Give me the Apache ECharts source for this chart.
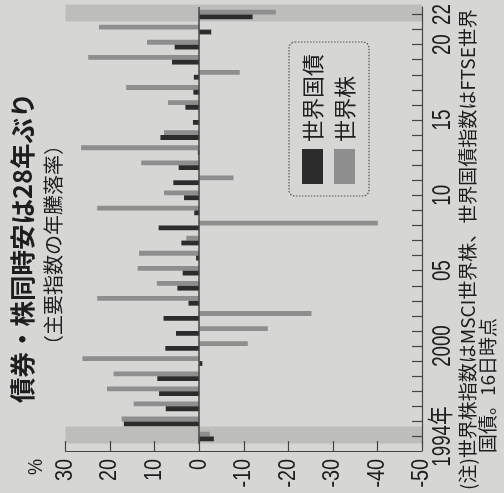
<!DOCTYPE html>
<html>
<head>
<meta charset="utf-8">
<script src="https://cdn.jsdelivr.net/npm/echarts@6/dist/echarts.min.js"></script>
<style>
  html, body { margin: 0; padding: 0; background: #d6d6d4; }
  #chart { width: 504px; height: 493px; }
</style>
</head>
<body>
<div id="chart"></div>
<script>
// Annual returns of the main bond and equity indices, 1994-2022 (%)
const years = ['1994', '1995', '1996', '1997', '1998', '1999', '2000', '2001', '2002', '2003',
  '2004', '2005', '2006', '2007', '2008', '2009', '2010', '2011', '2012', '2013',
  '2014', '2015', '2016', '2017', '2018', '2019', '2020', '2021', '2022'];
// 世界国債 (FTSE World Government Bond Index)
const bondReturns = [-3.3, 16.9, 7.5, 9.0, 9.4, -0.7, 7.6, 5.2, 8.0, 2.4,
  4.9, 3.7, 0.7, 4.0, 9.1, 1.1, 3.4, 5.8, 4.6, 0.3,
  8.7, 1.4, 3.1, 1.3, 1.2, 6.1, 5.5, -2.7, -12.0];
// 世界株 (MSCI World)
const stockReturns = [-2.4, 17.4, 14.7, 20.7, 19.2, 26.2, -10.9, -15.4, -25.2, 22.9,
  9.5, 13.8, 13.5, 2.9, -40.1, 22.9, 7.9, -7.7, 13.0, 26.5,
  7.9, 0.0, 7.0, 16.4, -9.1, 24.9, 11.7, 22.5, -17.2];
// years when both fell at once
const highlightYears = ['1994', '2022'];
// year axis labels
const labeledYears = ['1994', '2000', '2005', '2010', '2015', '2020', '2022'];
const yearLabelText = ['1994年', '2000', '05', '10', '15', '20', '22'];
// value axis (%)
const valueTickLabels = ['30', '20', '10', '0', '-10', '-20', '-30', '-40', '-50'];
const valueMin = -50;
const valueMax = 30;
const valueStep = 10;

const INK = '#1e1e1e';
const BOND_COLOR = '#2c2c2c';
const STOCK_COLOR = '#8e8e8e';
const BAND_COLOR = '#bdbdbb';
const AXIS_COLOR = '#444';
const JP = '"Noto Sans CJK JP", sans-serif';
const DIGITS = '"Liberation Sans", "Noto Sans CJK JP", sans-serif';
const UP = Math.PI / 2; // text reading bottom-to-top

const chart = echarts.init(document.getElementById('chart'), null, { renderer: 'canvas' });

function rotatedText(x, y, text, size, weight, align) {
  return {
    type: 'text', x: x, y: y, rotation: UP, silent: true,
    style: {
      text: text, fill: INK, font: (weight || 'normal') + ' ' + size + 'px ' + JP,
      textAlign: align || 'left', textVerticalAlign: 'middle'
    }
  };
}

const option = {
  backgroundColor: '#d6d6d4',
  animation: false,
  grid: { left: 65.5, right: 82, top: 7, bottom: 49, containLabel: false },
  xAxis: {
    type: 'value', inverse: true,
    min: valueMin, max: valueMax, interval: valueStep,
    offset: 7,
    axisLine: { show: true, lineStyle: { color: AXIS_COLOR, width: 1.2 } },
    axisTick: { show: true, inside: true, length: 10, lineStyle: { color: AXIS_COLOR, width: 1.2 } },
    splitLine: { show: false },
    axisLabel: { show: false }
  },
  yAxis: {
    type: 'category', data: years, position: 'right',
    axisLine: { show: true, onZero: false, lineStyle: { color: AXIS_COLOR, width: 1.2 } },
    axisTick: { show: true, inside: true, length: 10, alignWithLabel: true, interval: 0,
      lineStyle: { color: AXIS_COLOR, width: 1.2 } },
    axisLabel: { show: false },
    splitLine: { show: false }
  },
  series: [
    {
      // shaded rows for the years when both indices fell
      type: 'custom', name: 'band', silent: true, z: 0,
      data: highlightYears.map(function (y) { return [0, y]; }),
      renderItem: function (params, api) {
        const cy = api.coord([0, api.value(1)])[1];
        const h = api.size([0, 1])[1] * 1.12;
        const cs = params.coordSys;
        return {
          type: 'rect',
          shape: { x: cs.x, y: cy - h / 2 - 1.5, width: cs.width, height: h },
          style: { fill: BAND_COLOR }
        };
      }
    },
    {
      type: 'bar', name: '世界株', data: stockReturns, z: 2,
      barWidth: 4.8, barGap: '0%',
      itemStyle: { color: STOCK_COLOR },
      markLine: {
        silent: true, symbol: ['none', 'none'], label: { show: false },
        lineStyle: { color: AXIS_COLOR, width: 1.5, type: 'solid' },
        data: [{ xAxis: 0 }]
      }
    },
    {
      type: 'bar', name: '世界国債', data: bondReturns, z: 3,
      barWidth: 4.8, barGap: '0%',
      itemStyle: { color: BOND_COLOR }
    },
    {
      // year labels in a narrow face, placed by the category axis
      type: 'custom', name: 'yearLabels', silent: true, clip: false, z: 5,
      data: labeledYears.map(function (y) { return [0, y]; }),
      renderItem: function (params, api) {
        const cy = api.coord([0, api.value(1)])[1];
        const cs = params.coordSys;
        return {
          type: 'text', x: cs.x + cs.width + 8, y: cy, rotation: UP, scaleX: 0.72,
          style: {
            text: yearLabelText[params.dataIndex], fill: INK,
            font: '26px ' + DIGITS, textAlign: 'center', textVerticalAlign: 'top'
          }
        };
      }
    },
    {
      // value labels in a narrow face, placed by the value axis
      type: 'custom', name: 'valueLabels', silent: true, clip: false, z: 5,
      data: valueTickLabels.map(function (t) { return [Number(t), years[0]]; }),
      renderItem: function (params, api) {
        const cx = api.coord([api.value(0), 0])[0];
        const cs = params.coordSys;
        return {
          type: 'text', x: cx, y: cs.y + cs.height + 15, rotation: UP, scaleX: 0.86,
          style: {
            text: valueTickLabels[params.dataIndex], fill: INK,
            font: '23px ' + DIGITS, textAlign: 'right', textVerticalAlign: 'middle'
          }
        };
      }
    }
  ],
  graphic: [
    // title and subtitle
    rotatedText(22, 403, '債券・株同時安は28年ぶり', 25.5, 'bold'),
    rotatedText(53, 355, '（主要指数の年騰落率）', 20),
    // unit of the value axis
    {
      type: 'text', x: 36, y: 459, rotation: UP, scaleX: 0.86, silent: true,
      style: { text: '%', fill: INK, font: '21px ' + DIGITS, textAlign: 'right', textVerticalAlign: 'middle' }
    },
    // legend
    {
      type: 'rect', silent: true,
      shape: { x: 289, y: 42, width: 80, height: 154, r: 6 },
      style: { fill: 'none', stroke: '#555', lineWidth: 1.2, lineDash: [1.5, 1.5] }
    },
    { type: 'rect', silent: true, shape: { x: 302, y: 149, width: 21, height: 35 }, style: { fill: BOND_COLOR } },
    { type: 'rect', silent: true, shape: { x: 334, y: 149, width: 21, height: 35 }, style: { fill: STOCK_COLOR } },
    rotatedText(312.5, 142, '世界国債', 22),
    rotatedText(344.5, 142, '世界株', 22),
    // notes
    rotatedText(467.5, 490, '(注)世界株指数はMSCI世界株、世界国債指数はFTSE世界', 19),
    rotatedText(488, 453, '国債。16日時点', 19)
  ]
};

chart.setOption(option);
</script>
</body>
</html>
